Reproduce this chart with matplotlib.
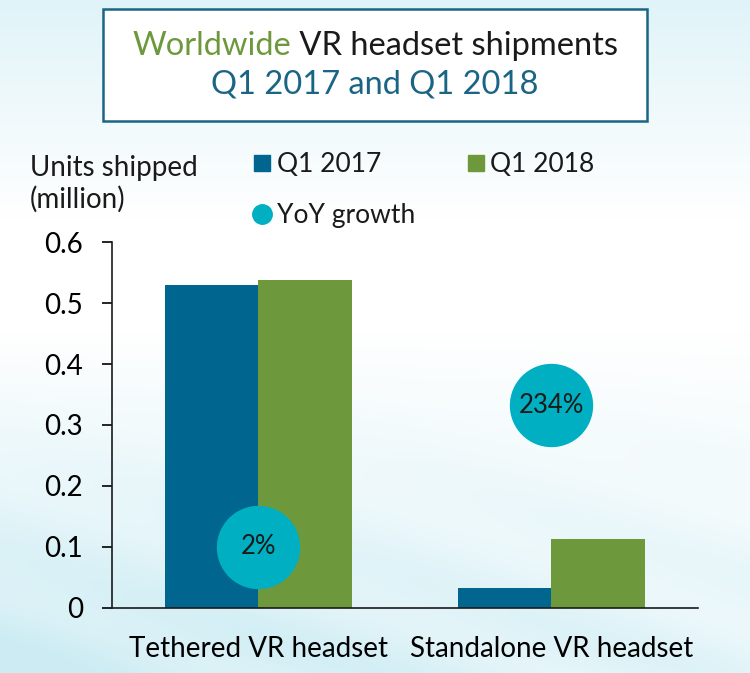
import numpy as np
import matplotlib
matplotlib.use('Agg')
import matplotlib.pyplot as plt
from matplotlib.patches import Rectangle
from matplotlib.lines import Line2D

plt.rcParams['font.family'] = ['Lato', 'DejaVu Sans']

# data
categories = ['Tethered VR headset', 'Standalone VR headset']
q1_2017 = [0.530, 0.033]
q1_2018 = [0.537, 0.113]
growth_labels = ['2%', '234%']
growth_y = [0.10, 0.332]   # where the bubbles sit on the value axis
yticks = [0, 0.1, 0.2, 0.3, 0.4, 0.5, 0.6]

c2017 = '#00668f'
c2018 = '#6e983c'
cbub = '#00b0c2'
cteal = '#1a6585'

fig = plt.figure(figsize=(7.5, 6.73), dpi=100)

# soft light blue background
H, W = 673, 750
yy, xx = np.mgrid[0:H, 0:W]
top = np.clip(1 - yy / 220.0, 0, 1) * 0.6
bot = np.clip((yy - 330) / 320.0, 0, 1) * (0.95 - 0.45 * xx / W)
streak = 0.12 * np.sin((xx * 0.35 - yy) / 18.0) * np.clip((yy - 380) / 300.0, 0, 1)
w = np.clip(np.maximum(top, bot) + streak, 0, 1)
tint = np.array([0.80, 0.925, 0.955])
img = 1 - w[..., None] * (1 - tint)
bg = fig.add_axes([0, 0, 1, 1], zorder=-10)
bg.imshow(img, aspect='auto', extent=[0, 1, 0, 1], origin='upper')
bg.axis('off')

ax = fig.add_axes([0.1493, 0.0966, 0.7813, 0.5438])
ax.set_facecolor('none')

x = np.arange(len(categories))
bw = 0.32
ax.bar(x - bw / 2, q1_2017, bw, color=c2017, zorder=2)
ax.bar(x + bw / 2, q1_2018, bw, color=c2018, zorder=2)
ax.scatter(x, growth_y, s=3600, color=cbub, zorder=3, linewidths=0)
for xi, yi, lab in zip(x, growth_y, growth_labels):
    ax.text(xi, yi, lab, ha='center', va='center', fontsize=18.5, color='#1a1a1a', zorder=4)

ax.set_xlim(-0.5, 1.5)
ax.set_ylim(0, 0.6)
ax.set_yticks(yticks)
ax.set_yticklabels(['0' if v == 0 else f'{v:.1f}' for v in yticks])
ax.set_xticks(x)
ax.set_xticklabels(categories)
ax.tick_params(axis='y', direction='out', length=7, width=1.2, pad=14, labelsize=20)
ax.tick_params(axis='x', length=0, pad=20, labelsize=20)
for s in ['top', 'right']:
    ax.spines[s].set_visible(False)
for s in ['left', 'bottom']:
    ax.spines[s].set_linewidth(1.2)
    ax.spines[s].set_color('#1a1a1a')

# axis title above the axis
fig.text(30 / W, 1 - 176 / H, 'Units shipped', ha='left', va='baseline',
         fontsize=20, color='#1a1a1a')
fig.text(30 / W, 1 - 208 / H, '(million)', ha='left', va='baseline',
         fontsize=20, color='#1a1a1a')

# legend
handles = [Line2D([], [], marker='s', ls='', color=c2017, markersize=12),
           Line2D([], [], marker='o', ls='', color=cbub, markersize=14),
           Line2D([], [], marker='s', ls='', color=c2018, markersize=12)]
labels = ['Q1 2017', 'YoY growth', 'Q1 2018']
fig.legend(handles, labels, ncol=2, loc='upper left', bbox_to_anchor=(228 / W, 1 - 128 / H),
           frameon=False, fontsize=19, handletextpad=0.15, columnspacing=1.9,
           labelspacing=1.0, handlelength=0.8, labelcolor='#1a1a1a')

# title box
fig.patches.append(Rectangle((103 / W, 1 - 121 / H), 544 / W, 112 / H, transform=fig.transFigure,
                             facecolor='white', edgecolor=cteal, lw=1.8, zorder=1))
t1 = fig.text(0, 1 - 55 / H, 'Worldwide', color=c2018, fontsize=23.5, ha='left', va='baseline')
t2 = fig.text(0, 1 - 55 / H, ' VR headset shipments', color='#1a1a1a', fontsize=23.5,
              ha='left', va='baseline')
fig.text(375 / W, 1 - 93 / H, 'Q1 2017 and Q1 2018', color=cteal, fontsize=23.5,
         ha='center', va='baseline')
fig.canvas.draw()
r = fig.canvas.get_renderer()
w1 = t1.get_window_extent(r).width
w2 = t2.get_window_extent(r).width
x0 = 375 - (w1 + w2) / 2
t1.set_x(x0 / W)
t2.set_x((x0 + w1) / W)

fig.savefig('out.png', dpi=100)
